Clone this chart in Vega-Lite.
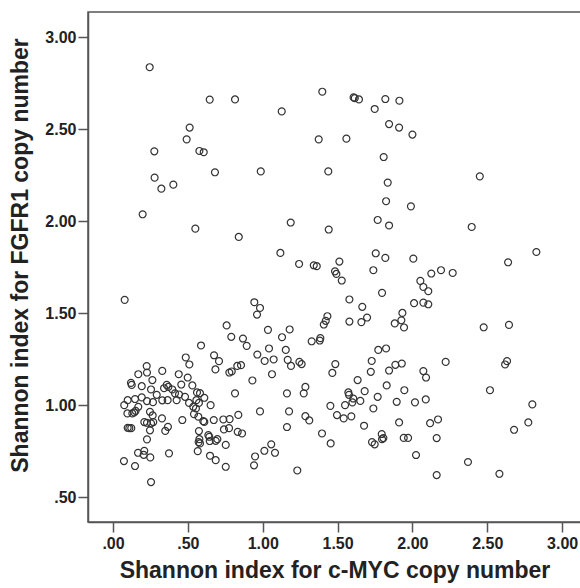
{
  "$schema": "https://vega.github.io/schema/vega-lite/v6.json",
  "width": 493,
  "height": 510,
  "autosize": {"type": "none"},
  "padding": {"left": 88, "top": 12, "right": 0, "bottom": 66},
  "background": "white",
  "data": {"values": [
    {"x":0.245,"y":2.836},{"x":0.646,"y":2.66},{"x":0.815,"y":2.661},{"x":0.512,"y":2.508},{"x":0.492,"y":2.444},{"x":0.276,"y":2.379},{"x":0.577,"y":2.381},{"x":0.606,"y":2.374},{"x":0.681,"y":2.265},{"x":0.278,"y":2.236},{"x":0.403,"y":2.198},{"x":0.323,"y":2.176},
    {"x":0.198,"y":2.037},{"x":0.55,"y":1.959},{"x":0.84,"y":1.914},{"x":0.078,"y":1.572},{"x":0.759,"y":1.433},{"x":0.79,"y":1.371},{"x":0.868,"y":1.362},{"x":0.893,"y":1.322},{"x":0.588,"y":1.324},{"x":0.675,"y":1.271},{"x":0.708,"y":1.239},{"x":0.486,"y":1.259},{"x":0.51,"y":1.221},{"x":0.225,"y":1.212},{"x":0.83,"y":1.213},{"x":0.855,"y":1.217},
    {"x":0.227,"y":1.177},{"x":0.329,"y":1.186},{"x":0.169,"y":1.168},{"x":0.263,"y":1.136},{"x":0.684,"y":1.194},{"x":0.777,"y":1.177},{"x":0.793,"y":1.183},{"x":0.439,"y":1.168},{"x":0.499,"y":1.15},{"x":0.12,"y":1.121},{"x":0.125,"y":1.11},{"x":0.192,"y":1.103},{"x":0.254,"y":1.085},{"x":0.359,"y":1.11},{"x":0.37,"y":1.099},{"x":0.341,"y":1.092},{"x":0.456,"y":1.112},{"x":0.53,"y":1.107},{"x":0.396,"y":1.085},{"x":0.414,"y":1.064},{"x":0.441,"y":1.058},{"x":0.481,"y":1.045},{"x":0.561,"y":1.069},{"x":0.581,"y":1.065},{"x":0.61,"y":1.04},{"x":0.557,"y":1.027},{"x":0.574,"y":1.012},{"x":0.652,"y":1.0},{"x":0.815,"y":1.064},{"x":0.292,"y":1.056},{"x":0.098,"y":1.027},{"x":0.147,"y":1.033},{"x":0.192,"y":1.042},{"x":0.227,"y":1.022},{"x":0.267,"y":1.016},{"x":0.329,"y":1.026},{"x":0.365,"y":1.027},{"x":0.425,"y":1.027},{"x":0.075,"y":1.0},{"x":0.169,"y":0.991},{"x":0.508,"y":1.012},{"x":0.536,"y":0.991},{"x":0.554,"y":0.982},{"x":0.151,"y":0.969},{"x":0.142,"y":0.96},{"x":0.096,"y":0.955},{"x":0.129,"y":0.955},{"x":0.247,"y":0.964},{"x":0.265,"y":0.944},{"x":0.541,"y":0.951},{"x":0.57,"y":0.937},{"x":0.837,"y":0.947},{"x":0.327,"y":0.928},{"x":0.463,"y":0.919},{"x":0.603,"y":0.913},{"x":0.61,"y":0.909},{"x":0.673,"y":0.919},{"x":0.737,"y":0.922},{"x":0.779,"y":0.924},{"x":0.209,"y":0.908},{"x":0.227,"y":0.904},{"x":0.254,"y":0.901},{"x":0.269,"y":0.908},{"x":0.098,"y":0.877},{"x":0.109,"y":0.875},{"x":0.122,"y":0.875},{"x":0.367,"y":0.882},{"x":0.349,"y":0.86},{"x":0.247,"y":0.863},{"x":0.741,"y":0.868},{"x":0.775,"y":0.875},{"x":0.833,"y":0.855},{"x":0.862,"y":0.846},{"x":0.574,"y":0.859},{"x":0.637,"y":0.837},{"x":0.643,"y":0.828},{"x":0.697,"y":0.815},{"x":0.686,"y":0.806},{"x":0.577,"y":0.815},{"x":0.572,"y":0.799},{"x":0.581,"y":0.792},{"x":0.646,"y":0.805},{"x":0.227,"y":0.814},{"x":0.753,"y":0.784},{"x":0.374,"y":0.738},{"x":0.167,"y":0.741},{"x":0.209,"y":0.752},{"x":0.205,"y":0.73},{"x":0.249,"y":0.716},{"x":0.566,"y":0.75},{"x":0.648,"y":0.725},{"x":0.686,"y":0.701},{"x":0.753,"y":0.665},{"x":0.073,"y":0.696},{"x":0.147,"y":0.669},{"x":0.254,"y":0.582},
    {"x":1.398,"y":2.703},{"x":1.607,"y":2.672},{"x":1.615,"y":2.668},{"x":1.643,"y":2.661},{"x":1.819,"y":2.663},{"x":1.913,"y":2.654},{"x":1.748,"y":2.609},{"x":1.127,"y":2.596},{"x":1.844,"y":2.527},{"x":1.911,"y":2.508},{"x":2.0,"y":2.47},{"x":1.374,"y":2.444},{"x":1.559,"y":2.448},{"x":1.808,"y":2.348},{"x":0.987,"y":2.27},{"x":1.438,"y":2.27},{"x":1.835,"y":2.209},{"x":2.45,"y":2.243},
    {"x":1.824,"y":2.108},{"x":1.99,"y":2.08},{"x":1.187,"y":1.992},{"x":1.441,"y":1.954},{"x":1.768,"y":2.006},{"x":1.844,"y":1.976},{"x":1.118,"y":1.827},{"x":1.243,"y":1.767},{"x":1.341,"y":1.76},{"x":1.361,"y":1.755},{"x":1.512,"y":1.78},{"x":1.483,"y":1.727},{"x":1.492,"y":1.713},{"x":1.528,"y":1.677},{"x":1.755,"y":1.825},{"x":1.819,"y":1.8},{"x":1.739,"y":1.733},{"x":1.797,"y":1.61},{"x":1.579,"y":1.574},{"x":1.665,"y":1.534},{"x":1.697,"y":1.476},{"x":1.659,"y":1.451},{"x":1.579,"y":1.454},{"x":1.933,"y":1.501},{"x":1.926,"y":1.461},{"x":1.944,"y":1.422},{"x":1.882,"y":1.444},{"x":0.944,"y":1.559},{"x":0.982,"y":1.528},{"x":0.962,"y":1.492},{"x":1.432,"y":1.483},{"x":1.421,"y":1.458},{"x":1.408,"y":1.438},{"x":1.035,"y":1.409},{"x":1.18,"y":1.411},{"x":1.129,"y":1.369},{"x":1.327,"y":1.347},{"x":1.381,"y":1.351},{"x":1.385,"y":1.364},{"x":1.042,"y":1.308},{"x":1.154,"y":1.3},{"x":0.964,"y":1.275},{"x":1.013,"y":1.24},{"x":1.073,"y":1.248},{"x":1.167,"y":1.246},{"x":1.245,"y":1.235},{"x":1.26,"y":1.223},{"x":1.485,"y":1.223},{"x":1.728,"y":1.24},{"x":1.772,"y":1.3},{"x":1.824,"y":1.308},{"x":1.886,"y":1.219},{"x":1.929,"y":1.226},
    {"x":1.189,"y":1.213},{"x":0.931,"y":1.134},{"x":1.062,"y":1.168},{"x":1.465,"y":1.175},{"x":1.722,"y":1.181},{"x":1.844,"y":1.188},{"x":1.634,"y":1.136},{"x":1.285,"y":1.099},{"x":1.274,"y":1.064},{"x":1.162,"y":1.064},{"x":1.572,"y":1.069},{"x":1.576,"y":1.056},{"x":1.605,"y":1.036},{"x":1.599,"y":1.015},{"x":1.652,"y":1.023},{"x":1.681,"y":1.076},{"x":1.768,"y":1.045},{"x":1.828,"y":1.107},{"x":1.946,"y":1.081},{"x":1.895,"y":1.018},{"x":1.452,"y":0.996},{"x":1.55,"y":1.0},{"x":1.739,"y":0.982},{"x":0.982,"y":0.966},{"x":1.176,"y":0.966},{"x":1.496,"y":0.946},{"x":1.541,"y":0.928},{"x":1.592,"y":0.939},{"x":1.285,"y":0.94},{"x":1.311,"y":0.917},{"x":1.162,"y":0.881},{"x":1.677,"y":0.888},{"x":1.911,"y":0.906},{"x":1.396,"y":0.846},{"x":1.454,"y":0.792},{"x":1.795,"y":0.843},{"x":1.806,"y":0.821},{"x":1.797,"y":0.815},{"x":1.73,"y":0.799},{"x":1.748,"y":0.787},{"x":1.942,"y":0.822},{"x":1.971,"y":0.822},{"x":1.057,"y":0.787},{"x":1.011,"y":0.752},{"x":1.082,"y":0.741},{"x":0.949,"y":0.721},{"x":0.942,"y":0.673},{"x":1.231,"y":0.645},
    {"x":2.396,"y":1.968},{"x":2.828,"y":1.832},{"x":2.639,"y":1.776},{"x":2.006,"y":1.796},{"x":2.053,"y":1.675},{"x":2.073,"y":1.642},{"x":2.106,"y":1.619},{"x":2.126,"y":1.715},{"x":2.191,"y":1.733},{"x":2.269,"y":1.718},{"x":2.011,"y":1.554},{"x":2.073,"y":1.557},{"x":2.106,"y":1.548},{"x":2.476,"y":1.423},{"x":2.645,"y":1.436},{"x":2.222,"y":1.235},{"x":2.632,"y":1.239},{"x":2.619,"y":1.221},
    {"x":2.073,"y":1.185},{"x":2.091,"y":1.15},{"x":2.518,"y":1.081},{"x":2.017,"y":1.015},{"x":2.089,"y":1.031},{"x":2.801,"y":1.004},{"x":2.118,"y":0.902},{"x":2.171,"y":0.922},{"x":2.162,"y":0.821},{"x":2.774,"y":0.906},{"x":2.679,"y":0.866},{"x":2.024,"y":0.729},{"x":2.371,"y":0.691},{"x":2.162,"y":0.62},{"x":2.581,"y":0.627}
  ]},
  "mark": {"type": "point", "shape": "circle", "filled": false, "size": 48, "stroke": "#333333", "strokeWidth": 1.2, "opacity": 1},
  "encoding": {
    "x": {
      "field": "x", "type": "quantitative",
      "scale": {"domain": [-0.167, 3.126], "nice": false, "zero": false},
      "axis": {
        "title": "Shannon index for c-MYC copy number",
        "values": [0, 0.5, 1, 1.5, 2, 2.5, 3],
        "labelExpr": "datum.value < 1 ? substring(format(datum.value, '.2f'), 1) : format(datum.value, '.2f')",
        "grid": false, "tickSize": 10, "labelPadding": 3, "titlePadding": 8
      }
    },
    "y": {
      "field": "y", "type": "quantitative",
      "scale": {"domain": [0.365, 3.136], "nice": false, "zero": false},
      "axis": {
        "title": "Shannon index for FGFR1 copy number",
        "values": [0.5, 1, 1.5, 2, 2.5, 3],
        "labelExpr": "datum.value < 1 ? substring(format(datum.value, '.2f'), 1) : format(datum.value, '.2f')",
        "grid": false, "tickSize": 10, "labelPadding": 2, "titlePadding": 12, "titleY": 243
      }
    }
  },
  "config": {
    "view": {"stroke": "#555555", "strokeWidth": 1.5},
    "axis": {
      "domainColor": "#555555", "domainWidth": 1.5,
      "tickColor": "#555555", "tickWidth": 1.5,
      "labelFont": "Liberation Sans", "labelFontSize": 16, "labelFontWeight": "bold", "labelColor": "#222222",
      "titleFont": "Liberation Sans", "titleFontSize": 23, "titleFontWeight": "bold", "titleColor": "#222222"
    }
  }
}
